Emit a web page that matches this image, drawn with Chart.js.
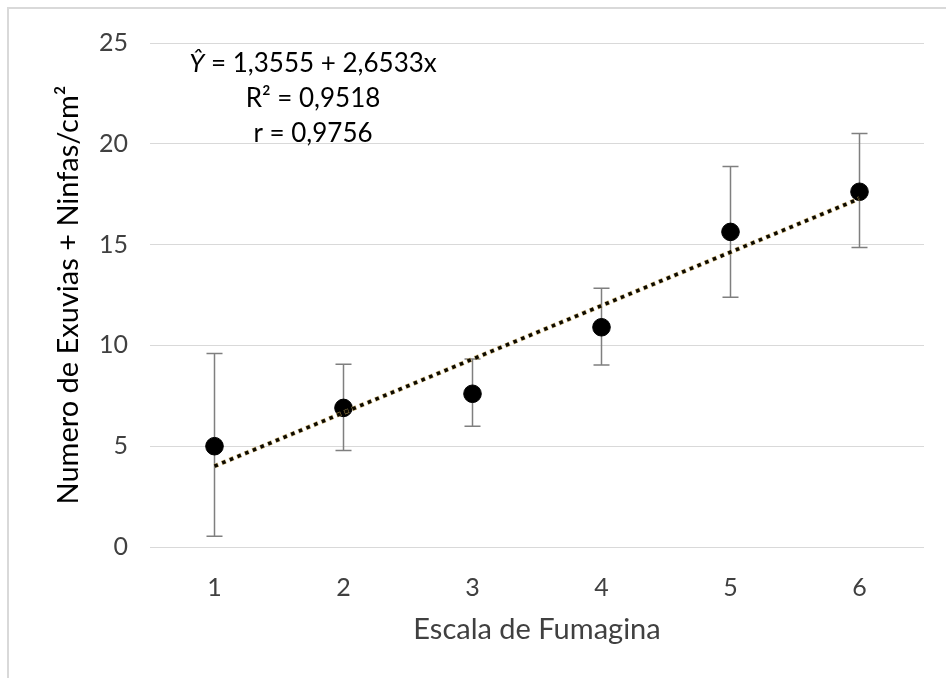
<!DOCTYPE html>
<html>
<head>
<meta charset="utf-8">
<script src="https://cdn.jsdelivr.net/npm/chart.js@4/dist/chart.umd.min.js"></script>
<style>
  html, body { margin: 0; padding: 0; background: #fff; }
  #wrap { position: relative; width: 946px; height: 678px; overflow: hidden; }
  #frame { position: absolute; left: 7px; top: 7px; right: -4px; bottom: -4px;
           border-top: 2px solid #d9d9d9; border-left: 2px solid #d9d9d9; }
  canvas { position: absolute; left: 0; top: 0; }
</style>
</head>
<body>
<div id="wrap">
  <div id="frame"></div>
  <canvas id="c" width="946" height="678"></canvas>
</div>
<script>
// ---- data ----
const categories = [1, 2, 3, 4, 5, 6];
const means      = [5.0, 6.9, 7.6, 10.9, 15.63, 17.62];
const errHigh    = [9.6, 9.07, 9.32, 12.84, 18.87, 20.51];
const errLow     = [0.53, 4.79, 5.99, 9.03, 12.39, 14.85];
const trendX     = [1, 6];
const trendY     = [4.01, 17.28];
const yTicks     = [0, 5, 10, 15, 20, 25];
const eqLines    = ["= 1,3555 + 2,6533x", "R² = 0,9518", "r = 0,9756"];
const xTitle     = "Escala de Fumagina";
const yTitle     = "Numero de Exuvias + Ninfas/cm²";

const FONT = "Lato, 'Open Sans', sans-serif";
const TXT = "#404040";

const errorBars = {
  id: 'errorBars',
  beforeDatasetsDraw(chart) {
    const {ctx, scales: {x, y}} = chart;
    ctx.save();
    ctx.strokeStyle = '#7f7f7f';
    ctx.lineWidth = 1.5;
    categories.forEach((c, i) => {
      const px = x.getPixelForValue(c);
      const yt = y.getPixelForValue(errHigh[i]);
      const yb = y.getPixelForValue(errLow[i]);
      ctx.beginPath();
      ctx.moveTo(px, yt); ctx.lineTo(px, yb);
      ctx.moveTo(px - 8, yt); ctx.lineTo(px + 8, yt);
      ctx.moveTo(px - 8, yb); ctx.lineTo(px + 8, yb);
      ctx.stroke();
    });
    ctx.restore();
  }
};

const equation = {
  id: 'equation',
  afterDatasetsDraw(chart) {
    const {ctx, chartArea} = chart;
    const cx = 313;
    const top = chartArea.top;
    ctx.save();
    ctx.fillStyle = '#000';
    ctx.textBaseline = 'middle';
    const f = "26px " + FONT;
    const fi = "italic 26px " + FONT;
    ctx.font = fi;
    const w1 = ctx.measureText("Ŷ").width;
    ctx.font = f;
    const w2 = ctx.measureText(" " + eqLines[0]).width;
    const sx = cx - (w1 + w2) / 2;
    ctx.textAlign = 'left';
    ctx.font = fi;
    ctx.fillText("Ŷ", sx, top + 21);
    ctx.font = f;
    ctx.fillText(" " + eqLines[0], sx + w1, top + 21);
    ctx.textAlign = 'center';
    ctx.fillText(eqLines[1], cx, top + 56);
    ctx.fillText(eqLines[2], cx, top + 91);
    ctx.restore();
  }
};

new Chart(document.getElementById('c'), {
  type: 'scatter',
  data: {
    datasets: [
      {
        label: 'trend',
        data: trendX.map((v, i) => ({x: v, y: trendY[i]})),
        showLine: true,
        borderColor: '#0d0a00',
        borderWidth: 3.5,
        borderDash: [3.6, 4.7],
        pointRadius: 0,
        order: 0
      },
      {
        label: 'trendHalo',
        data: trendX.map((v, i) => ({x: v, y: trendY[i]})),
        showLine: true,
        borderColor: 'rgba(200,170,95,0.75)',
        borderWidth: 4.6,
        borderDash: [4.6, 3.7],
        borderDashOffset: 0.5,
        pointRadius: 0,
        order: 1
      },
      {
        label: 'mean',
        data: categories.map((v, i) => ({x: v, y: means[i]})),
        backgroundColor: '#000',
        borderColor: '#000',
        pointRadius: 8.8,
        pointHoverRadius: 8.8,
        order: 2
      }
    ]
  },
  options: {
    responsive: false,
    animation: false,
    events: [],
    layout: { padding: { left: 0, right: 22, top: 43, bottom: 0 } },
    plugins: { legend: { display: false }, tooltip: { enabled: false } },
    scales: {
      x: {
        type: 'linear',
        min: 0.5, max: 6.5,
        afterBuildTicks(s) { s.ticks = categories.map(v => ({value: v})); },
        afterFit(s) { s.height = 131; },
        grid: { display: false },
        border: { display: false },
        ticks: { color: TXT, font: { family: FONT, size: 25 }, padding: 18 },
        title: { display: true, text: xTitle, color: TXT,
                 font: { family: FONT, size: 29 }, padding: { top: 0, bottom: 31 } }
      },
      y: {
        min: 0, max: 25,
        afterBuildTicks(s) { s.ticks = yTicks.map(v => ({value: v})); },
        afterFit(s) { s.width = 150; },
        grid: { color: '#d9d9d9', lineWidth: 1, drawTicks: false },
        border: { display: false },
        ticks: { color: TXT, font: { family: FONT, size: 25 }, padding: 22 },
        title: { display: true, text: yTitle, color: '#000',
                 font: { family: FONT, size: 29 }, padding: { top: 51, bottom: 0 } }
      }
    }
  },
  plugins: [errorBars, equation]
});
</script>
</body>
</html>
